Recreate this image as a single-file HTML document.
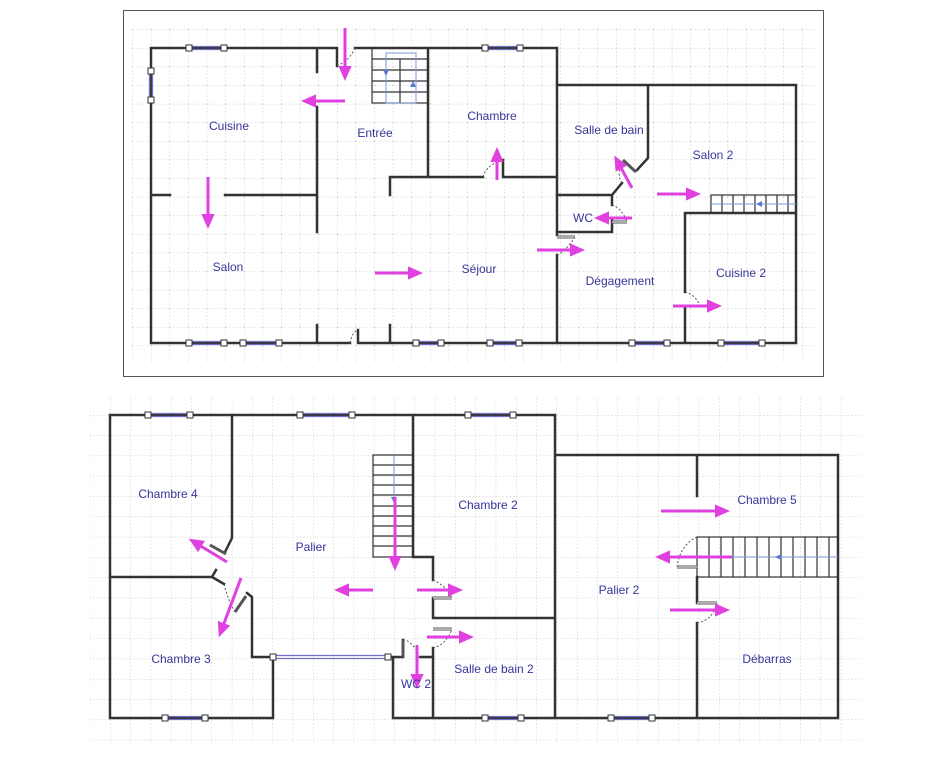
<!DOCTYPE html>
<html><head><meta charset="utf-8"><style>
html,body{margin:0;padding:0;background:#fff}
svg{display:block}
text{font-family:"Liberation Sans","DejaVu Sans",sans-serif;font-size:12px;fill:#35359a}
</style></head><body>
<svg width="925" height="768" viewBox="0 0 925 768" xmlns="http://www.w3.org/2000/svg">
<defs>
<pattern id="g1" x="151" y="48" width="18.6" height="18.6" patternUnits="userSpaceOnUse">
<path d="M0 0H18.6M0 0V18.6" stroke="#c4c4c4" stroke-width="1" stroke-dasharray="1.5 2" fill="none"/></pattern>
<pattern id="g2" x="110" y="415" width="20.3" height="20.3" patternUnits="userSpaceOnUse">
<path d="M0 0H20.3M0 0V20.3" stroke="#c4c4c4" stroke-width="1" stroke-dasharray="1.5 2" fill="none"/></pattern>
<marker id="ah" markerWidth="5" markerHeight="4.4" refX="1" refY="2.2" orient="auto" markerUnits="strokeWidth"><path d="M0,0 L5,2.2 L0,4.4z" fill="#e040e0"/></marker>
</defs>
<rect x="123.5" y="10.5" width="700" height="366" fill="#fff" stroke="#555"/>
<rect x="132" y="28" width="684" height="334" fill="url(#g1)"/>
<rect x="90" y="396" width="770" height="346" fill="url(#g2)"/>

<g stroke="#333" stroke-width="2.5" fill="none" stroke-linecap="square">
<path d="M151 48H317 M317 48V72 M317 48H337V66 M355 48H557 M151 48V343 M151 343H350 M358 330V343H557 M390 325V343 M317 107V232 M317 325V343 M151 195H170 M225 195H317 M428 48V177 M390 195V177H483 M503 160V177H557 M557 48V235 M557 255V343"/>
<path d="M557 85H796V343H557 M648 85V158L637 170 M622 183L612 195H557 M612 195V205 M612 220V232H557 M685 213H796 M685 213V292 M685 306V343"/>
<path d="M110 415H555 M110 415V718H273V657H252V597L247 593 M232 415V538L225 552 M110 577H212L216 570 M212 577L224 584 M388 657H403V640 M420 657H433 M393 657V718 M413 415V557H433V580 M433 598V618H555 M433 648V718 M393 718H838V455H555 M555 415V718 M697 455V496 M697 577V603 M697 623V718"/>
</g>
<g stroke="#333" stroke-width="1.2" fill="none">
<rect x="372" y="48" width="56" height="55"/>
<path d="M372 59H428M372 70H428M372 81H428M372 92H428M400 59V103"/>
<rect x="711" y="195" width="85" height="18"/>
<path d="M722 195V213M733 195V213M744 195V213M755 195V213M766 195V213M777 195V213M788 195V213"/>
<rect x="373" y="455" width="40" height="102"/>
<path d="M373 465H413M373 475H413M373 485H413M373 495H413M373 506H413M373 516H413M373 526H413M373 536H413M373 546H413"/>
<rect x="697" y="537" width="141" height="40"/>
<path d="M709 537V577M721 537V577M733 537V577M745 537V577M757 537V577M769 537V577M781 537V577M793 537V577M805 537V577M817 537V577M829 537V577"/>
</g>
<g stroke="#7a9ad8" stroke-width="1" fill="none">
<rect x="386" y="53" width="30" height="50"/>
<path d="M394 455V497 M711 557H838 M711 204H796"/>
</g>
<g fill="#5a7ad0"><path d="M383 70l3 6 3-6z"/><path d="M410 87l3-6 3 6z"/><path d="M756 204l6-3v6z"/><path d="M391 497l3 6 3-6z"/><path d="M775 557l6-3v6z"/></g>
<g stroke="#555" stroke-width="3" fill="none">
<path d="M557 237H575 M612 222H627 M685 306H700 M623 160L636 172 M433 598H452 M433 629H452 M677 567H697 M697 603H717 M210 545L226 554 M235 612L246 596 M403 640V657"/>
</g>
<g stroke="#fff" stroke-width="1" fill="none">
<path d="M557 237H575 M612 222H627 M433 598H452 M433 629H452 M677 567H697 M697 603H717"/>
</g>
<g stroke="#555" stroke-width="1" stroke-dasharray="2 2" fill="none">
<path d="M337 66Q350 60 355 48 M350 343Q352 332 358 330 M483 177Q486 165 503 160 M557 255Q565 252 575 237 M612 205Q622 208 627 222 M685 292Q696 295 700 306 M622 183Q616 175 623 160 M433 580Q445 585 452 598 M433 648Q446 645 452 629 M697 537Q680 545 677 567 M697 623Q713 620 717 603 M225 552Q212 548 210 545 M224 584Q228 600 235 612 M403 640Q412 640 420 657"/>
</g>
<g stroke="#7070c8" stroke-width="1.3" fill="none">
<path d="M189 46.5H224M189 49.5H224 M485 46.5H520M485 49.5H520 M149.5 71V100M152.5 71V100 M189 341.5H224M189 344.5H224 M243 341.5H279M243 344.5H279 M416 341.5H441M416 344.5H441 M490 341.5H519M490 344.5H519 M632 341.5H667M632 344.5H667 M721 341.5H762M721 344.5H762"/>
<path d="M148 413.5H190M148 416.5H190 M300 413.5H352M300 416.5H352 M468 413.5H513M468 416.5H513 M273 655.5H388M273 658.5H388 M165 716.5H205M165 719.5H205 M485 716.5H521M485 719.5H521 M611 716.5H652M611 719.5H652"/>
</g>
<g stroke="#333" stroke-width="1" fill="#fff">
<rect x="186" y="45" width="6" height="6"/><rect x="221" y="45" width="6" height="6"/><rect x="482" y="45" width="6" height="6"/><rect x="517" y="45" width="6" height="6"/>
<rect x="148" y="68" width="6" height="6"/><rect x="148" y="97" width="6" height="6"/>
<rect x="186" y="340" width="6" height="6"/><rect x="221" y="340" width="6" height="6"/><rect x="240" y="340" width="6" height="6"/><rect x="276" y="340" width="6" height="6"/>
<rect x="413" y="340" width="6" height="6"/><rect x="438" y="340" width="6" height="6"/><rect x="487" y="340" width="6" height="6"/><rect x="516" y="340" width="6" height="6"/>
<rect x="629" y="340" width="6" height="6"/><rect x="664" y="340" width="6" height="6"/><rect x="718" y="340" width="6" height="6"/><rect x="759" y="340" width="6" height="6"/>
<rect x="145" y="412" width="6" height="6"/><rect x="187" y="412" width="6" height="6"/><rect x="297" y="412" width="6" height="6"/><rect x="349" y="412" width="6" height="6"/><rect x="465" y="412" width="6" height="6"/><rect x="510" y="412" width="6" height="6"/>
<rect x="270" y="654" width="6" height="6"/><rect x="385" y="654" width="6" height="6"/>
<rect x="162" y="715" width="6" height="6"/><rect x="202" y="715" width="6" height="6"/><rect x="482" y="715" width="6" height="6"/><rect x="518" y="715" width="6" height="6"/><rect x="608" y="715" width="6" height="6"/><rect x="649" y="715" width="6" height="6"/>
</g>
<g stroke="#e040e0" stroke-width="3" fill="none" marker-end="url(#ah)">
<path d="M345 28V69"/><path d="M345 101H313"/><path d="M208 177V217"/><path d="M375 273H411"/><path d="M497 180V159"/><path d="M537 250H573"/><path d="M632 188L620 166"/><path d="M632 218H606"/><path d="M657 194H689"/><path d="M673 306H710"/>
<path d="M227 562L199 545"/><path d="M241 578L223 626"/><path d="M395 497V559"/><path d="M373 590H346"/><path d="M417 590H451"/><path d="M427 637H462"/><path d="M417 645V677"/><path d="M661 511H718"/><path d="M732 557H667"/><path d="M670 610H718"/>
</g>
<g text-anchor="middle">
<text x="229" y="130">Cuisine</text><text x="375" y="137">Entrée</text><text x="492" y="120">Chambre</text><text x="609" y="134">Salle de bain</text><text x="713" y="159">Salon 2</text><text x="583" y="222">WC</text><text x="228" y="271">Salon</text><text x="479" y="273">Séjour</text><text x="620" y="285">Dégagement</text><text x="741" y="277">Cuisine 2</text>
<text x="168" y="498">Chambre 4</text><text x="311" y="551">Palier</text><text x="488" y="509">Chambre 2</text><text x="767" y="504">Chambre 5</text><text x="619" y="594">Palier 2</text><text x="181" y="663">Chambre 3</text><text x="494" y="673">Salle de bain 2</text><text x="416" y="688">WC 2</text><text x="767" y="663">Débarras</text>
</g>
</svg>
</body></html>
